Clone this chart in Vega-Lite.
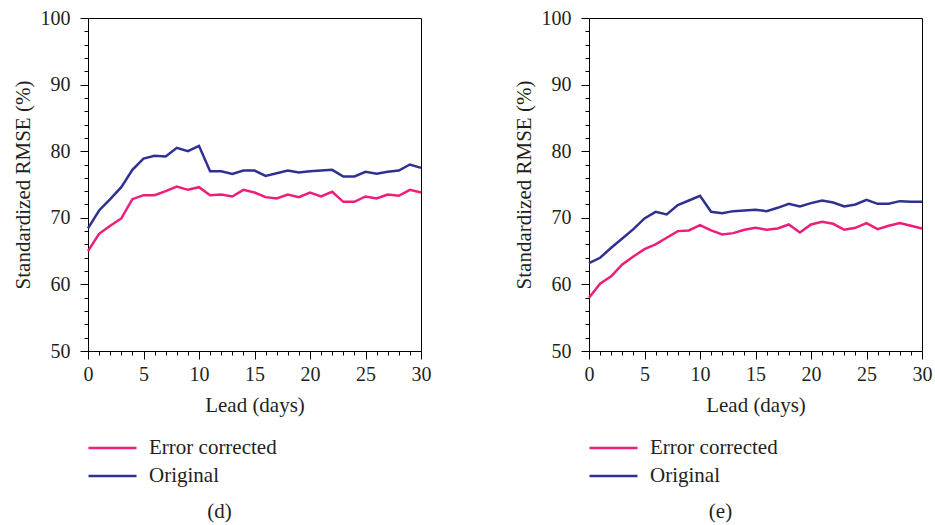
{
  "$schema": "https://vega.github.io/schema/vega-lite/v6.json",
  "background": "white",
  "padding": {"left": 11, "top": 7, "right": 5, "bottom": 5},
  "bounds": "flush",
  "spacing": 168,
  "resolve": {"scale": {"color": "independent"}},
  "config": {
    "font": "Liberation Serif",
    "view": {"stroke": "black", "strokeWidth": 1},
    "axis": {
      "labelFont": "Liberation Serif",
      "labelFontSize": 20,
      "labelColor": "#231f20",
      "titleFont": "Liberation Serif",
      "titleFontSize": 21,
      "titleFontWeight": "normal",
      "titleColor": "#231f20",
      "domainColor": "black",
      "tickColor": "black",
      "grid": false,
      "labelOverlap": false,
      "labelFlush": false
    },
    "legend": {
      "labelFont": "Liberation Serif",
      "labelFontSize": 21,
      "labelColor": "#231f20",
      "padding": 0,
      "symbolType": "stroke",
      "symbolSize": 2304,
      "symbolStrokeWidth": 2.5,
      "labelOffset": 11,
      "clipHeight": 20,
      "rowPadding": 7
    },
    "title": {"font": "Liberation Serif", "fontSize": 21, "fontWeight": "normal", "color": "#231f20"}
  },
  "datasets": {
    "d": [
      {"lead": 0, "series": "Error corrected", "rmse": 65.0},
      {"lead": 1, "series": "Error corrected", "rmse": 67.6},
      {"lead": 2, "series": "Error corrected", "rmse": 68.8},
      {"lead": 3, "series": "Error corrected", "rmse": 69.9},
      {"lead": 4, "series": "Error corrected", "rmse": 72.8},
      {"lead": 5, "series": "Error corrected", "rmse": 73.4},
      {"lead": 6, "series": "Error corrected", "rmse": 73.4},
      {"lead": 7, "series": "Error corrected", "rmse": 74.0},
      {"lead": 8, "series": "Error corrected", "rmse": 74.7},
      {"lead": 9, "series": "Error corrected", "rmse": 74.2},
      {"lead": 10, "series": "Error corrected", "rmse": 74.6},
      {"lead": 11, "series": "Error corrected", "rmse": 73.4},
      {"lead": 12, "series": "Error corrected", "rmse": 73.5},
      {"lead": 13, "series": "Error corrected", "rmse": 73.2},
      {"lead": 14, "series": "Error corrected", "rmse": 74.2},
      {"lead": 15, "series": "Error corrected", "rmse": 73.8},
      {"lead": 16, "series": "Error corrected", "rmse": 73.1},
      {"lead": 17, "series": "Error corrected", "rmse": 72.9},
      {"lead": 18, "series": "Error corrected", "rmse": 73.5},
      {"lead": 19, "series": "Error corrected", "rmse": 73.1},
      {"lead": 20, "series": "Error corrected", "rmse": 73.8},
      {"lead": 21, "series": "Error corrected", "rmse": 73.2},
      {"lead": 22, "series": "Error corrected", "rmse": 73.9},
      {"lead": 23, "series": "Error corrected", "rmse": 72.4},
      {"lead": 24, "series": "Error corrected", "rmse": 72.4},
      {"lead": 25, "series": "Error corrected", "rmse": 73.2},
      {"lead": 26, "series": "Error corrected", "rmse": 72.9},
      {"lead": 27, "series": "Error corrected", "rmse": 73.5},
      {"lead": 28, "series": "Error corrected", "rmse": 73.3},
      {"lead": 29, "series": "Error corrected", "rmse": 74.2},
      {"lead": 30, "series": "Error corrected", "rmse": 73.8},
      {"lead": 0, "series": "Original", "rmse": 68.4},
      {"lead": 1, "series": "Original", "rmse": 71.1},
      {"lead": 2, "series": "Original", "rmse": 72.8},
      {"lead": 3, "series": "Original", "rmse": 74.6},
      {"lead": 4, "series": "Original", "rmse": 77.2},
      {"lead": 5, "series": "Original", "rmse": 78.9},
      {"lead": 6, "series": "Original", "rmse": 79.3},
      {"lead": 7, "series": "Original", "rmse": 79.2},
      {"lead": 8, "series": "Original", "rmse": 80.5},
      {"lead": 9, "series": "Original", "rmse": 80.0},
      {"lead": 10, "series": "Original", "rmse": 80.8},
      {"lead": 11, "series": "Original", "rmse": 77.0},
      {"lead": 12, "series": "Original", "rmse": 77.0},
      {"lead": 13, "series": "Original", "rmse": 76.6},
      {"lead": 14, "series": "Original", "rmse": 77.1},
      {"lead": 15, "series": "Original", "rmse": 77.1},
      {"lead": 16, "series": "Original", "rmse": 76.3},
      {"lead": 17, "series": "Original", "rmse": 76.7},
      {"lead": 18, "series": "Original", "rmse": 77.1},
      {"lead": 19, "series": "Original", "rmse": 76.8},
      {"lead": 20, "series": "Original", "rmse": 77.0},
      {"lead": 21, "series": "Original", "rmse": 77.1},
      {"lead": 22, "series": "Original", "rmse": 77.2},
      {"lead": 23, "series": "Original", "rmse": 76.2},
      {"lead": 24, "series": "Original", "rmse": 76.2},
      {"lead": 25, "series": "Original", "rmse": 76.9},
      {"lead": 26, "series": "Original", "rmse": 76.6},
      {"lead": 27, "series": "Original", "rmse": 76.9},
      {"lead": 28, "series": "Original", "rmse": 77.1},
      {"lead": 29, "series": "Original", "rmse": 78.0},
      {"lead": 30, "series": "Original", "rmse": 77.5}
    ],
    "e": [
      {"lead": 0, "series": "Error corrected", "rmse": 58.0},
      {"lead": 1, "series": "Error corrected", "rmse": 60.1},
      {"lead": 2, "series": "Error corrected", "rmse": 61.2},
      {"lead": 3, "series": "Error corrected", "rmse": 63.0},
      {"lead": 4, "series": "Error corrected", "rmse": 64.2},
      {"lead": 5, "series": "Error corrected", "rmse": 65.3},
      {"lead": 6, "series": "Error corrected", "rmse": 66.0},
      {"lead": 7, "series": "Error corrected", "rmse": 67.0},
      {"lead": 8, "series": "Error corrected", "rmse": 68.0},
      {"lead": 9, "series": "Error corrected", "rmse": 68.1},
      {"lead": 10, "series": "Error corrected", "rmse": 68.9},
      {"lead": 11, "series": "Error corrected", "rmse": 68.1},
      {"lead": 12, "series": "Error corrected", "rmse": 67.5},
      {"lead": 13, "series": "Error corrected", "rmse": 67.7},
      {"lead": 14, "series": "Error corrected", "rmse": 68.2},
      {"lead": 15, "series": "Error corrected", "rmse": 68.5},
      {"lead": 16, "series": "Error corrected", "rmse": 68.2},
      {"lead": 17, "series": "Error corrected", "rmse": 68.4},
      {"lead": 18, "series": "Error corrected", "rmse": 69.0},
      {"lead": 19, "series": "Error corrected", "rmse": 67.8},
      {"lead": 20, "series": "Error corrected", "rmse": 69.0},
      {"lead": 21, "series": "Error corrected", "rmse": 69.4},
      {"lead": 22, "series": "Error corrected", "rmse": 69.1},
      {"lead": 23, "series": "Error corrected", "rmse": 68.2},
      {"lead": 24, "series": "Error corrected", "rmse": 68.5},
      {"lead": 25, "series": "Error corrected", "rmse": 69.2},
      {"lead": 26, "series": "Error corrected", "rmse": 68.3},
      {"lead": 27, "series": "Error corrected", "rmse": 68.8},
      {"lead": 28, "series": "Error corrected", "rmse": 69.2},
      {"lead": 29, "series": "Error corrected", "rmse": 68.8},
      {"lead": 30, "series": "Error corrected", "rmse": 68.4},
      {"lead": 0, "series": "Original", "rmse": 63.2},
      {"lead": 1, "series": "Original", "rmse": 64.0},
      {"lead": 2, "series": "Original", "rmse": 65.5},
      {"lead": 3, "series": "Original", "rmse": 66.9},
      {"lead": 4, "series": "Original", "rmse": 68.3},
      {"lead": 5, "series": "Original", "rmse": 69.9},
      {"lead": 6, "series": "Original", "rmse": 70.9},
      {"lead": 7, "series": "Original", "rmse": 70.5},
      {"lead": 8, "series": "Original", "rmse": 71.9},
      {"lead": 9, "series": "Original", "rmse": 72.6},
      {"lead": 10, "series": "Original", "rmse": 73.3},
      {"lead": 11, "series": "Original", "rmse": 70.9},
      {"lead": 12, "series": "Original", "rmse": 70.7},
      {"lead": 13, "series": "Original", "rmse": 71.0},
      {"lead": 14, "series": "Original", "rmse": 71.1},
      {"lead": 15, "series": "Original", "rmse": 71.2},
      {"lead": 16, "series": "Original", "rmse": 71.0},
      {"lead": 17, "series": "Original", "rmse": 71.5},
      {"lead": 18, "series": "Original", "rmse": 72.1},
      {"lead": 19, "series": "Original", "rmse": 71.7},
      {"lead": 20, "series": "Original", "rmse": 72.2},
      {"lead": 21, "series": "Original", "rmse": 72.6},
      {"lead": 22, "series": "Original", "rmse": 72.3},
      {"lead": 23, "series": "Original", "rmse": 71.7},
      {"lead": 24, "series": "Original", "rmse": 72.0},
      {"lead": 25, "series": "Original", "rmse": 72.7},
      {"lead": 26, "series": "Original", "rmse": 72.1},
      {"lead": 27, "series": "Original", "rmse": 72.1},
      {"lead": 28, "series": "Original", "rmse": 72.5},
      {"lead": 29, "series": "Original", "rmse": 72.4},
      {"lead": 30, "series": "Original", "rmse": 72.4}
    ]
  },
  "hconcat": [
    {
      "width": 333,
      "height": 333,
      "data": {"name": "d"},
      "title": {"text": "(d)", "orient": "bottom", "anchor": "middle", "offset": 15, "dx": -35},
      "mark": {"type": "line", "strokeWidth": 2.5},
      "encoding": {
        "x": {
          "field": "lead", "type": "quantitative",
          "scale": {"domain": [0, 30], "nice": false},
          "axis": {
            "title": "Lead (days)",
            "values": [0,1,2,3,4,5,6,7,8,9,10,11,12,13,14,15,16,17,18,19,20,21,22,23,24,25,26,27,28,29,30],
            "labelExpr": "datum.value % 5 === 0 ? datum.label : ''",
            "tickSize": {"condition": {"test": "datum.value % 5 === 0", "value": 8}, "value": 4},
            "labelPadding": 5, "titlePadding": 10
          }
        },
        "y": {
          "field": "rmse", "type": "quantitative",
          "scale": {"domain": [50, 100], "nice": false},
          "axis": {
            "title": "Standardized RMSE (%)",
            "values": [50,52,54,56,58,60,62,64,66,68,70,72,74,76,78,80,82,84,86,88,90,92,94,96,98,100],
            "labelExpr": "datum.value % 10 === 0 ? datum.label : ''",
            "tickSize": {"condition": {"test": "datum.value % 10 === 0", "value": 8}, "value": 4},
            "labelPadding": 10, "titlePadding": 7
          }
        },
        "color": {
          "field": "series", "type": "nominal",
          "scale": {"domain": ["Error corrected", "Original"], "range": ["#ED1E79", "#2E3192"]},
          "legend": {"title": null, "orient": "none", "legendX": -1, "legendY": 420}
        }
      }
    },
    {
      "width": 333,
      "height": 333,
      "data": {"name": "e"},
      "title": {"text": "(e)", "orient": "bottom", "anchor": "middle", "offset": 15, "dx": -35},
      "mark": {"type": "line", "strokeWidth": 2.5},
      "encoding": {
        "x": {
          "field": "lead", "type": "quantitative",
          "scale": {"domain": [0, 30], "nice": false},
          "axis": {
            "title": "Lead (days)",
            "values": [0,1,2,3,4,5,6,7,8,9,10,11,12,13,14,15,16,17,18,19,20,21,22,23,24,25,26,27,28,29,30],
            "labelExpr": "datum.value % 5 === 0 ? datum.label : ''",
            "tickSize": {"condition": {"test": "datum.value % 5 === 0", "value": 8}, "value": 4},
            "labelPadding": 5, "titlePadding": 10
          }
        },
        "y": {
          "field": "rmse", "type": "quantitative",
          "scale": {"domain": [50, 100], "nice": false},
          "axis": {
            "title": "Standardized RMSE (%)",
            "values": [50,52,54,56,58,60,62,64,66,68,70,72,74,76,78,80,82,84,86,88,90,92,94,96,98,100],
            "labelExpr": "datum.value % 10 === 0 ? datum.label : ''",
            "tickSize": {"condition": {"test": "datum.value % 10 === 0", "value": 8}, "value": 4},
            "labelPadding": 10, "titlePadding": 7
          }
        },
        "color": {
          "field": "series", "type": "nominal",
          "scale": {"domain": ["Error corrected", "Original"], "range": ["#ED1E79", "#2E3192"]},
          "legend": {"title": null, "orient": "none", "legendX": -1, "legendY": 420}
        }
      }
    }
  ]
}
